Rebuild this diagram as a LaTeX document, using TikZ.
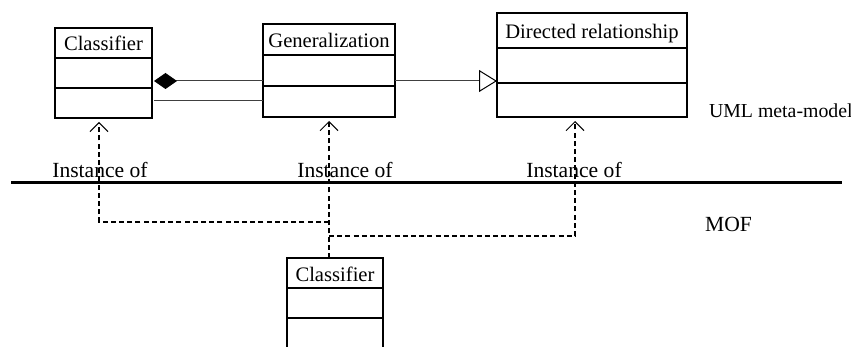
\documentclass[tikz,border=0pt]{standalone}
\usepackage{fontspec}
\setmainfont{Liberation Serif}
\usetikzlibrary{positioning,arrows.meta,calc}

\begin{document}
\begin{tikzpicture}[x=0.5pt,y=-0.5pt,
    font=\fontsize{10.3}{12}\selectfont,
    part/.style={draw, line width=0.7pt, inner sep=0pt, outer sep=0pt, text height=8pt, text depth=0pt},
    assoc/.style={line width=0.5pt, draw=black!75},
    instof/.style={line width=0.75pt, dash pattern=on 2.5pt off 1.6pt, -{Straight Barb[length=4.5pt,width=9pt,line width=0.5pt]}, shorten >=2pt},
    lbl/.style={font=\fontsize{10.8}{13}\selectfont, anchor=base}]
    \useasboundingbox (0,0) rectangle (851,347);

    \node[part, minimum width=48.5pt, minimum height=15pt] (cls-t) at (103.5,43) {Classifier};
    \node[part, minimum width=48.5pt, minimum height=15pt, below=0pt of cls-t] (cls-a) {};
    \node[part, minimum width=48.5pt, minimum height=15pt, below=0pt of cls-a] (cls-o) {};

    \node[part, minimum width=66pt, minimum height=15.5pt] (gen-t) at (329,39.5) {Generalization};
    \node[part, minimum width=66pt, minimum height=15.5pt, below=0pt of gen-t] (gen-a) {};
    \node[part, minimum width=66pt, minimum height=15.5pt, below=0pt of gen-a] (gen-o) {};

    \node[part, minimum width=95pt, minimum height=17.5pt] (dir-t) at (592,30.5) {Directed relationship};
    \node[part, minimum width=95pt, minimum height=17.5pt, below=0pt of dir-t] (dir-a) {};
    \node[part, minimum width=95pt, minimum height=17pt, below=0pt of dir-a] (dir-o) {};

    \node[part, minimum width=48pt, minimum height=15pt] (mof-t) at (335,273) {Classifier};
    \node[part, minimum width=48pt, minimum height=15pt, below=0pt of mof-t] (mof-a) {};
    \node[part, minimum width=48pt, minimum height=18pt, below=0pt of mof-a] (mof-o) {};

    \coordinate (comp) at (0,81);
    \coordinate (link) at (0,101);
    \draw[assoc, {Diamond[length=11.5pt,width=8pt,color=black,fill=black]}-, shorten <=1pt] (cls-a.east |- comp) -- (gen-a.west |- comp);
    \draw[assoc, shorten <=1pt] (cls-o.east |- link) -- (gen-o.west |- link);
    \draw[assoc, -{Triangle[open,length=9pt,width=11pt,color=black,fill=white]}] (gen-a.east |- comp) -- (dir-a.west |- comp);

    \coordinate (sepL) at (11,183);
    \coordinate (sepR) at (842,183);
    \draw[line width=1.5pt] (sepL) -- (sepR);

    \node[lbl] (inst1) at (100,178) {Instance of};
    \node[lbl] (inst2) at (345,178) {Instance of};
    \node[lbl] (inst3) at (574,178) {Instance of};
    \node[lbl, anchor=base west, font=\fontsize{9.9}{12}\selectfont] (uml) at (702,118) {UML meta-model};
    \node[lbl, anchor=base west] (mof) at (698,232) {MOF};

    \coordinate (j1) at (99,222);
    \coordinate (j2) at (575,236);
    \draw[instof] (gen-o.south |- mof-t.north) -- (gen-o.south);
    \draw[instof] (gen-o.south |- j1) -- (j1) -- (j1 |- cls-o.south);
    \draw[instof] (gen-o.south |- j2) -- (j2) -- (j2 |- dir-o.south);
\end{tikzpicture}
\end{document}
